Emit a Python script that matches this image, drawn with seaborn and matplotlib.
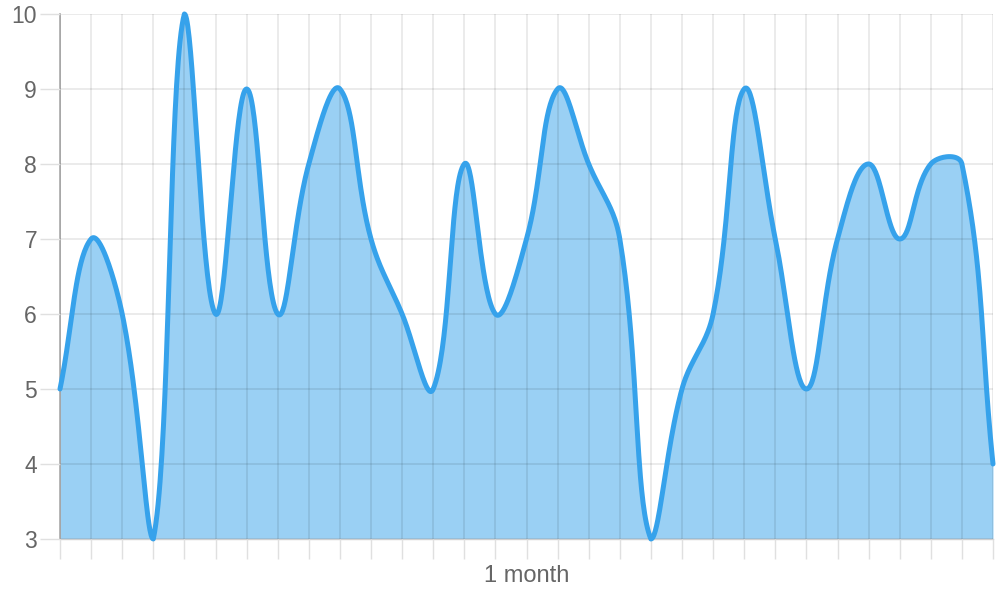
import numpy as np
import matplotlib.pyplot as plt
import seaborn as sns
import pandas as pd

# one value per day, 31 days
days = list(range(31))
values = [5, 7, 6, 3, 10, 6, 9, 6, 8, 9, 7, 6, 5, 8, 6, 7,
          9, 8, 7, 3, 5, 6, 9, 7, 5, 7, 8, 7, 8, 8, 4]
y_ticks = [3, 4, 5, 6, 7, 8, 9, 10]
x_title = '1 month'

line_color = '#36A2EB'
fill_color = (54 / 255, 162 / 255, 235 / 255, 0.5)
text_color = '#666666'

sns.set_style('white')
plt.rcParams['font.family'] = ['Liberation Sans', 'DejaVu Sans']

fig = plt.figure(figsize=(10, 6), dpi=100)
fig.subplots_adjust(left=0.06, right=0.993, bottom=0.1017, top=0.9767)
ax = fig.add_subplot(111)

x_min, x_max = 0, len(days) - 1
y_min, y_max = min(y_ticks), max(y_ticks)

# pixel scale of the plot area, used for the spline tension like Chart.js
sx = 933 / (x_max - x_min)
sy = 525 / (y_max - y_min)
pts = np.column_stack([np.array(days) * sx, np.array(values) * sy])

tension = 0.4
n = len(pts)
cp_prev = np.zeros_like(pts)
cp_next = np.zeros_like(pts)
for i in range(n):
    p0 = pts[i - 1] if i > 0 else pts[i]
    p1 = pts[i]
    p2 = pts[i + 1] if i < n - 1 else pts[i]
    d01 = np.hypot(*(p1 - p0))
    d12 = np.hypot(*(p2 - p1))
    tot = d01 + d12
    s01 = d01 / tot if tot else 0
    s12 = d12 / tot if tot else 0
    cp_prev[i] = p1 - tension * s01 * (p2 - p0)
    cp_next[i] = p1 + tension * s12 * (p2 - p0)

lo, hi = y_min * sy, y_max * sy
cp_prev[:, 1] = np.clip(cp_prev[:, 1], lo, hi)
cp_next[:, 1] = np.clip(cp_next[:, 1], lo, hi)
cp_prev[:, 0] = np.clip(cp_prev[:, 0], x_min * sx, x_max * sx)
cp_next[:, 0] = np.clip(cp_next[:, 0], x_min * sx, x_max * sx)

t = np.linspace(0, 1, 40)[:, None]
curve = []
for i in range(n - 1):
    a, b, c, d = pts[i], cp_next[i], cp_prev[i + 1], pts[i + 1]
    seg = ((1 - t) ** 3) * a + 3 * ((1 - t) ** 2) * t * b + 3 * (1 - t) * t ** 2 * c + t ** 3 * d
    curve.append(seg if i == 0 else seg[1:])
curve = np.vstack(curve)
df = pd.DataFrame({'day': curve[:, 0] / sx, 'value': curve[:, 1] / sy})

ax.fill_between(df['day'], df['value'], y_min, color=fill_color, linewidth=0, zorder=2)
sns.lineplot(data=df, x='day', y='value', sort=False, color=line_color,
             linewidth=3.6, ax=ax, zorder=3, clip_on=False)

ax.set_xlim(x_min, x_max)
ax.set_ylim(y_min, y_max)
ax.set_xticks(days)
ax.set_xticklabels([])
ax.set_yticks(y_ticks)
ax.set_yticklabels([str(v) for v in y_ticks], fontsize=16.5, color=text_color)

# grid over the translucent fill, under the line
ax.set_axisbelow(False)
ax.grid(True, color='black', alpha=0.1, linewidth=1.1)
ax.tick_params(axis='both', bottom=True, left=True, length=14.5, width=1,
               color='#e0e0e0', pad=2)

for side in ['top', 'right']:
    ax.spines[side].set_visible(False)
ax.spines['left'].set_color('#b0b0b0')
ax.spines['left'].set_linewidth(1.3)
ax.spines['bottom'].set_color('#cfcfcf')
ax.spines['bottom'].set_linewidth(1)

ax.set_xlabel(x_title, fontsize=17, color=text_color, labelpad=2)
ax.set_ylabel('')

plt.savefig('out.png', dpi=100)
plt.close()
